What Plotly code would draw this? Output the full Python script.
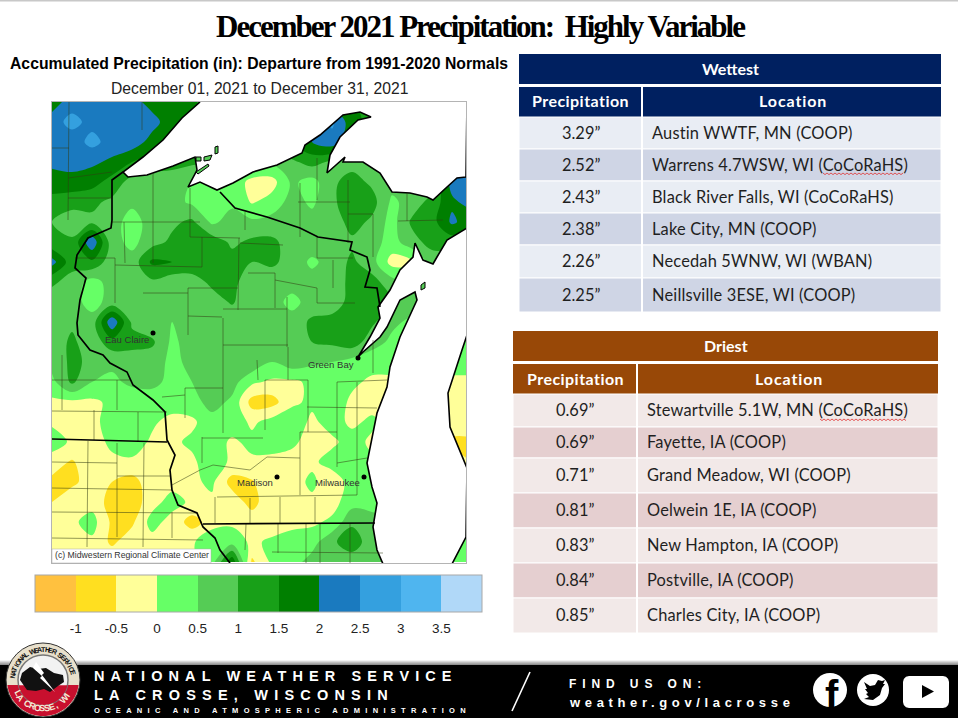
import math
import plotly.graph_objects as go

W, H = 958, 718

# departure from normal (in) on a 20 px grid
grid_x = [52 + 20 * i for i in range(22)]
grid_y = [102 + 20 * i for i in range(24)]
departure = [
    [1.7, 2.3, 2.35, 2.2, 2.2, 1.8, 1.7, 1.6, 1.2, 1.2, 1.2, 1.2, 1.2, 1.3, 1.5, 1.5, 1.2, 1.2, 1.2, 1.2, 1.2, 1.2],
    [2.3, 2.65, 2.35, 2.3, 2.3, 2.2, 1.7, 1.6, 1.3, 1.3, 1.3, 1.3, 1.5, 2.0, 2.6, 1.7, 1.3, 1.3, 1.3, 1.3, 1.3, 1.3],
    [2.3, 2.25, 2.65, 2.3, 2.3, 1.8, 1.6, 1.4, 1.2, 1.2, 1.2, 1.2, 1.6, 2.0, 2.3, 1.5, 1.2, 1.2, 1.2, 1.2, 1.2, 1.2],
    [2.1, 2.2, 2.1, 1.9, 1.5, 1.3, 1.2, 1.1, 1.0, 0.9, 0.8, 0.6, 0.9, 1.2, 0.9, 0.8, 0.7, 0.7, 0.7, 0.7, 0.9, 1.2],
    [1.8, 1.8, 1.7, 1.3, 0.8, 0.7, 0.7, 0.5, 0.5, 0.4, -0.2, -0.2, 0.6, 0.3, 0.9, 1.2, 0.9, 0.7, 0.7, 0.7, 2.2, 2.4],
    [1.3, 1.2, 1.1, 0.9, 0.6, 0.6, 0.7, 0.4, 0.4, 0.4, -0.05, 0.2, 0.7, 0.4, 0.9, 1.3, 1.2, 0.4, 0.7, 1.2, 1.9, 2.2],
    [1.0, 0.7, 0.9, 0.7, 0.3, 0.7, 0.9, 1.1, 0.4, 0.7, 0.6, 0.7, 0.8, 0.7, 0.7, 1.2, 0.9, 0.3, 1.1, 1.3, 2.1, 1.7],
    [1.1, 1.1, 2.4, 0.7, 0.35, 0.8, 1.1, 1.2, 1.3, 0.9, 1.1, 1.1, 0.8, 0.8, 0.7, 0.9, 0.7, 0.3, 0.8, 1.2, 1.2, 1.1],
    [2.2, 1.2, 1.4, 0.7, 0.7, 1.6, 1.5, 1.3, 1.3, 1.2, 1.0, 1.1, 0.8, 0.4, 0.7, 1.1, 0.7, -0.2, -0.1, 0.7, 0.7, 0.7],
    [1.1, 0.8, 0.3, 0.7, 0.7, 0.9, 0.7, 0.8, 1.1, 1.1, 0.8, 0.7, 0.7, 0.7, 0.8, 1.1, 1.2, 0.7, 0.4, 0.4, 0.4, 0.4],
    [0.7, 0.7, 0.3, 0.7, 0.8, 0.7, 0.7, 0.7, 0.8, 1.05, 0.7, 0.7, 0.35, 0.7, 0.7, 1.2, 1.2, 1.0, 0.7, 0.4, 0.4, 0.4],
    [0.8, 0.9, 0.7, 2.4, 0.9, 0.6, 0.5, 0.7, 0.7, 0.7, 0.7, 0.7, 0.7, 1.1, 1.2, 1.3, 1.1, 0.6, 0.4, 0.4, 0.4, 0.4],
    [0.7, 1.1, 0.7, 1.3, 1.2, 1.1, 0.4, 0.7, 0.7, 0.8, 0.9, 0.9, 0.9, 1.0, 1.1, 1.3, 0.7, 0.4, 0.3, 0.3, 0.3, 0.3],
    [0.7, 1.1, 0.9, 0.6, 0.7, 0.7, 0.4, 0.6, 0.7, 1.0, 0.9, 0.5, 0.8, 0.6, 0.5, 0.3, 0.2, 0.2, 0.2, 0.2, 0.2, 0.2],
    [0.35, 1.1, 0.5, 0.4, 0.6, 0.6, 0.4, 0.5, 0.7, 0.7, 0.1, -0.1, -0.1, 0.1, 0.3, 0.1, -0.1, -0.1, -0.1, -0.1, -0.1, -0.1],
    [-0.1, -0.1, -0.1, 0.1, 0.2, 0.3, 0.3, 0.3, 0.7, 0.4, -0.7, -0.7, -0.1, 0.1, 0.3, -0.1, -0.2, -0.2, -0.2, -0.2, -0.2, -0.2],
    [-0.1, -0.2, -0.2, 0.3, 0.3, 0.1, -0.2, -0.1, 0.3, 0.3, -0.1, 0.2, 0.3, -0.1, 0.2, -0.1, 0.1, -0.2, -0.2, -0.2, -0.2, -0.2],
    [0.3, -0.1, -0.2, 0.1, 0.3, -0.1, -0.1, 0.1, 0.3, -0.1, 0.15, 0.3, 0.1, -0.2, -0.1, 0.2, -0.1, -0.2, -0.2, -0.2, -0.6, -0.6],
    [-0.3, -0.55, -0.2, -0.1, -0.1, -0.2, -0.2, -0.1, 0.3, -0.1, -0.1, -0.2, -0.2, -0.1, 0.2, 0.2, 0.1, 0.1, 0.1, 0.1, -0.2, -0.5],
    [-0.6, -0.6, -0.3, -0.5, -0.7, -0.2, -0.2, -0.1, 0.1, -0.7, -0.55, -0.1, -0.2, 0.1, -0.3, 0.2, 0.2, 0.2, 0.2, 0.2, 0.2, 0.2],
    [-0.5, -0.2, -0.2, -0.7, -0.8, -0.2, 0.2, -0.1, -0.1, -0.2, -0.7, -0.1, -0.1, -0.1, -0.2, 0.3, 0.3, 0.3, 0.3, 0.3, 0.3, 0.3],
    [-0.1, -0.1, 0.2, -0.6, -0.6, 0.2, -0.2, -0.7, -0.3, -0.1, -0.2, -0.3, -0.2, -0.1, 0.1, 0.9, 0.7, 0.5, 0.5, 0.5, 0.5, 0.5],
    [-0.1, -0.1, -0.1, -0.6, -0.2, -0.2, -0.1, -0.1, 0.5, 0.3, -0.1, 0.1, 0.3, 0.3, 0.9, 1.3, 0.7, 0.5, 0.5, 0.5, 0.4, 0.4],
    [-0.1, -0.1, -0.1, -0.1, -0.1, -0.1, -0.1, -0.1, 0.3, 1.9, -0.6, 0.1, 0.3, 0.7, 0.8, 0.7, 0.6, 0.5, 0.5, 0.5, 0.3, 0.3],
]
legend_ticks = [-1, -0.5, 0, 0.5, 1, 1.5, 2, 2.5, 3, 3.5]
legend_colors = ["#FFC13F", "#FFDF20", "#FFFF99", "#66FF66", "#55CC55", "#18A018",
                 "#007F00", "#1A7ABF", "#34A0DF", "#4FB5EF", "#B0D8F8"]

superior = [(200, 102), (182, 118), (163, 140), (143, 157), (123, 172), (128, 177), (147, 175), (173, 166),
            (195, 157), (197, 170), (188, 187), (200, 182), (217, 190), (233, 183), (253, 172), (277, 165),
            (302, 153), (305, 145), (320, 135), (343, 115), (360, 112), (371, 117), (358, 120), (340, 137),
            (330, 155), (327, 173), (345, 157), (343, 162), (363, 162), (380, 173), (392, 192), (410, 193),
            (427, 197), (433, 200), (447, 187), (457, 178), (466, 177), (467, 101), (200, 101), (200, 102)]
michigan = [(467, 228), (447, 240), (437, 257), (433, 264), (423, 260), (415, 243), (413, 257), (400, 270),
            (390, 290), (378, 307), (380, 318), (370, 337), (358, 357), (363, 352), (380, 337), (387, 327),
            (400, 300), (415, 292), (417, 300), (400, 337), (390, 367), (387, 387), (377, 413), (372, 440),
            (367, 463), (372, 487), (377, 503), (373, 527), (377, 550), (383, 564), (452, 564), (466, 537),
            (467, 468), (450, 427), (448, 393), (462, 350), (467, 335), (467, 228)]
islands = [[(421, 285), (425, 282), (425, 288), (421, 290), (421, 285)],
           [(215, 147), (218, 146), (218, 153), (215, 154), (215, 147)],
           [(204, 157), (212, 155), (210, 160), (204, 161), (204, 157)],
           [(196, 157), (201, 157), (201, 161), (196, 161), (196, 157)],
           [(196, 172), (208, 164), (209, 166), (198, 174), (196, 172)]]
border_mn_wi = [(123, 172), (112, 180), (112, 220), (111, 228), (88, 238), (77, 255), (75, 268), (86, 278),
                (80, 300), (77, 323), (78, 335), (90, 350), (103, 355), (110, 363), (127, 372), (133, 385),
                (153, 400), (165, 412), (167, 440), (175, 455), (170, 470), (172, 490), (178, 505), (197, 513),
                (203, 527), (215, 538), (220, 550), (230, 563)]
border_ia_mn = [(52, 439), (167, 442)]
border_wi_il = [(203, 524), (375, 523)]
border_wi_mi = [(220, 192), (235, 208), (267, 217), (300, 228), (318, 237), (352, 242), (350, 250), (367, 257),
                (370, 270), (365, 287), (377, 288), (380, 307)]
county_lines = [
    [(69, 102), (68, 220)], [(52, 148), (69, 148)], [(142, 102), (142, 130)], [(68, 198), (112, 198)],
    [(68, 178), (112, 172)], [(112, 222), (200, 222)], [(153, 173), (153, 263)], [(124, 222), (125, 263)],
    [(190, 188), (190, 237)], [(190, 237), (240, 238)], [(202, 237), (202, 267)], [(239, 238), (238, 310)],
    [(245, 212), (245, 230)], [(240, 243), (283, 245)], [(115, 258), (115, 303)], [(75, 258), (115, 258)],
    [(115, 265), (202, 267)], [(143, 293), (188, 293)], [(188, 288), (238, 288)], [(188, 288), (188, 335)],
    [(248, 273), (275, 273)], [(275, 273), (275, 308)], [(188, 316), (222, 317)], [(223, 318), (223, 345)],
    [(223, 309), (287, 309)], [(287, 297), (287, 347)], [(275, 280), (317, 288)], [(317, 288), (317, 303)],
    [(317, 303), (355, 303)], [(300, 183), (300, 237)], [(298, 202), (350, 202)], [(317, 158), (317, 200)],
    [(348, 180), (348, 243)], [(348, 214), (373, 214)], [(373, 214), (373, 257)], [(398, 221), (443, 220)],
    [(407, 193), (407, 221)], [(317, 237), (317, 258)], [(317, 258), (353, 258)], [(333, 260), (333, 288)],
    [(52, 380), (130, 380)], [(62, 355), (62, 410)], [(117, 380), (117, 410)], [(52, 411), (167, 412)],
    [(94, 410), (94, 440)], [(138, 412), (138, 442)], [(88, 441), (87, 547)], [(52, 462), (117, 463)],
    [(117, 443), (117, 537)], [(144, 443), (143, 547)], [(117, 476), (170, 476)], [(52, 488), (172, 490)],
    [(52, 512), (197, 513)], [(172, 512), (172, 538)], [(52, 538), (203, 540)], [(162, 397), (185, 395)],
    [(185, 388), (223, 388)], [(185, 388), (185, 418)], [(223, 345), (223, 433)], [(202, 437), (202, 463)],
    [(172, 485), (200, 470), (213, 465), (250, 470), (267, 457), (300, 458)], [(202, 438), (263, 438)],
    [(300, 432), (300, 495)], [(300, 432), (337, 432)], [(337, 432), (337, 467)], [(217, 497), (357, 495)],
    [(215, 497), (215, 523)], [(250, 498), (250, 523)], [(280, 497), (280, 523)], [(315, 497), (315, 523)],
    [(337, 463), (367, 458)], [(357, 382), (357, 495)], [(337, 382), (387, 380)], [(337, 382), (337, 432)],
    [(307, 407), (377, 408)], [(308, 380), (308, 432)], [(265, 380), (265, 430)], [(265, 380), (308, 380)],
    [(288, 347), (288, 380)], [(223, 345), (288, 345)], [(257, 360), (258, 380)], [(373, 340), (373, 373)],
    [(246, 524), (245, 550)], [(278, 524), (278, 553)], [(306, 524), (306, 563)], [(320, 524), (320, 563)],
    [(350, 524), (350, 563)], [(272, 552), (383, 553)],
]
cities = ["Eau Claire", "Green Bay", "Madison", "Milwaukee"]
city_x = [153, 358, 277, 364]
city_y = [333, 358, 477, 477]
city_label_x = [127, 331, 255, 337]
city_label_y = [339, 364, 483, 483]

wettest_amount = ["3.29”", "2.52”", "2.43”", "2.38”", "2.26”", "2.25”"]
wettest_place = ["Austin WWTF, MN (COOP)", "Warrens 4.7WSW, WI (CoCoRaHS)", "Black River Falls, WI (CoCoRaHS)",
                 "Lake City, MN (COOP)", "Necedah 5WNW, WI (WBAN)", "Neillsville 3ESE, WI (COOP)"]
driest_amount = ["0.69”", "0.69”", "0.71”", "0.81”", "0.83”", "0.84”", "0.85”"]
driest_place = ["Stewartville 5.1W, MN (CoCoRaHS)", "Fayette, IA (COOP)", "Grand Meadow, WI (COOP)",
                "Oelwein 1E, IA (COOP)", "New Hampton, IA (COOP)", "Postville, IA (COOP)", "Charles City, IA (COOP)"]


def px(x):
    return x / W


def py(y):
    return 1 - y / H


def xs(lines):
    out = []
    for line in lines:
        out += [p[0] for p in line] + [None]
    return out


def ys(lines):
    out = []
    for line in lines:
        out += [p[1] for p in line] + [None]
    return out


def poly(points):
    return "M" + " L".join(f"{px(a):.5f},{py(b):.5f}" for a, b in points) + " Z"


shapes = []
notes = []


def add_shape(kind, x0, y0, x1, y1, fill, line=None, lw=0):
    shapes.append(dict(type=kind, xref="paper", yref="paper", x0=px(x0), x1=px(x1), y0=py(y0), y1=py(y1),
                       fillcolor=fill, line=dict(color=line or fill, width=lw), layer="above"))


def add_path(points, fill, line=None, lw=0):
    shapes.append(dict(type="path", xref="paper", yref="paper", path=poly(points), fillcolor=fill,
                       line=dict(color=line or fill, width=lw), layer="above"))


def add_text(x, y, text, size, color="black", family="Liberation Sans", anchor="center", bold=False, angle=0):
    notes.append(dict(xref="paper", yref="paper", x=px(x), y=py(y), text=f"<b>{text}</b>" if bold else text,
                      showarrow=False, xanchor=anchor, yanchor="middle", textangle=angle,
                      font=dict(family=family, size=size, color=color)))


def spaced(text, gap):
    return f'<span style="letter-spacing:{gap}px">{text}</span>'


fig = go.Figure()

fig.add_trace(go.Contour(
    x=grid_x, y=grid_y, z=departure, xaxis="x", yaxis="y", zauto=False, zmin=-1.5, zmax=4,
    autocontour=False, contours=dict(start=-1, end=3.5, size=0.5, coloring="fill", showlines=False),
    line=dict(width=0, smoothing=1),
    colorscale=[[k / 11 if j == 0 else (k + 1) / 11, c] for k, c in enumerate(legend_colors) for j in (0, 1)],
    hoverinfo="skip",
    colorbar=dict(orientation="h", x=px(258.5), xanchor="center", y=py(575), yanchor="top", len=447, lenmode="pixels",
                  thickness=37, thicknessmode="pixels", xpad=0, ypad=0, outlinecolor="#A8A8A8", outlinewidth=1,
                  tickmode="array", tickvals=legend_ticks, ticktext=[str(t) for t in legend_ticks],
                  ticks="outside", ticklen=5, tickwidth=1, tickcolor="rgba(0,0,0,0)",
                  tickfont=dict(family="Liberation Sans", size=13.5, color="#222222")),
))
fig.add_trace(go.Scatter(x=[p[0] for p in superior], y=[p[1] for p in superior], mode="lines", fill="toself",
                         fillcolor="white", line=dict(color="black", width=1.6), hoverinfo="skip", showlegend=False))
fig.add_trace(go.Scatter(x=[p[0] for p in michigan], y=[p[1] for p in michigan], mode="lines", fill="toself",
                         fillcolor="white", line=dict(color="black", width=1.6), hoverinfo="skip", showlegend=False))
fig.add_trace(go.Scatter(x=xs(islands), y=ys(islands), mode="lines", fill="toself", fillcolor="#55CC55",
                         line=dict(color="black", width=1), hoverinfo="skip", showlegend=False))
fig.add_trace(go.Scatter(x=xs(county_lines), y=ys(county_lines), mode="lines",
                         line=dict(color="rgba(50,60,20,0.75)", width=0.7), hoverinfo="skip", showlegend=False))
fig.add_trace(go.Scatter(x=xs([border_mn_wi, border_ia_mn, border_wi_il, border_wi_mi]),
                         y=ys([border_mn_wi, border_ia_mn, border_wi_il, border_wi_mi]), mode="lines",
                         line=dict(color="black", width=1.7), hoverinfo="skip", showlegend=False))
fig.add_trace(go.Scatter(x=city_x, y=city_y, mode="markers", marker=dict(color="black", size=5), hoverinfo="skip",
                         showlegend=False))

# the two station tables: band, header row, then striped rows of the picture's own heights
for name, amounts, places, head, odd, even, x0, x1, split, band_y, row_lines in [
    ("Wettest", wettest_amount, wettest_place, "#002060", "#E9EDF4", "#CFD5E5", 519, 941, 642, 54,
     [117, 149, 181, 213, 245, 278, 312]),
    ("Driest", driest_amount, driest_place, "#984807", "#F2E9E8", "#E5CFD0", 513, 938, 637, 331,
     [394, 427, 458, 493, 528, 563, 598, 633]),
]:
    head_y = band_y + 33
    add_shape("rect", x0, band_y, x1, band_y + 30, head)
    add_text((x0 + x1) / 2, band_y + 14.5, name, 16, "white", "Lato", bold=True)
    add_shape("rect", x0, head_y, x1, head_y + 30, head)
    add_text((x0 + split) / 2, head_y + 14, spaced("Precipitation", 0.45), 16, "white", "Lato", bold=True)
    add_text((split + x1) / 2 + 1, head_y + 14, spaced("Location", 0.9), 16, "white", "Lato", bold=True)
    for i, (amount, place) in enumerate(zip(amounts, places)):
        top, bottom = row_lines[i], row_lines[i + 1]
        mid = (top + bottom) / 2 - 0.7
        add_shape("rect", x0, top, x1, bottom, odd if i % 2 == 0 else even, "white", 1)
        add_text((x0 + split) / 2, mid, amount, 16.4, "#1f1f1f", "Lato")
        add_text(split + 8, mid, spaced(place, 0.18), 16.4, "#1f1f1f", "Lato", anchor="left")
    add_shape("rect", split - 1, head_y, split + 1, row_lines[-1], "white")

# spell check squiggles
for x_start, x_end, y_sq in [(823, 906, 173), (820, 909, 419)]:
    pts = [(x_start + i * 2, y_sq + (i % 2) * 1.6) for i in range(int((x_end - x_start) / 2))]
    shapes.append(dict(type="path", xref="paper", yref="paper", layer="above", line=dict(color="#E03030", width=0.8),
                       path="M" + " L".join(f"{px(a):.5f},{py(b):.5f}" for a, b in pts)))

# separators of the legend boxes
for t in legend_ticks:
    tick_x = 35 + (t + 1.5) / 5.5 * 447
    shapes.append(dict(type="line", xref="paper", yref="paper", x0=px(tick_x), x1=px(tick_x), y0=py(575), y1=py(612),
                       line=dict(color="#444444", width=1), layer="above"))

# titles
add_shape("rect", 0, 0, 958, 1.5, "#C8C8C8")
add_text(480, 26, spaced("December 2021 Precipitation:&nbsp; Highly Variable", -2), 31, "black", "Liberation Serif", bold=True)
add_text(259, 63, "Accumulated Precipitation (in): Departure from 1991-2020 Normals", 15.75, "black", bold=True)
add_text(259, 88, "December 01, 2021 to December 31, 2021", 15.7, "#222222")

# map labels
for name, lx, ly in zip(cities, city_label_x, city_label_y):
    add_text(lx, ly, name, 9.5, "#333333")
add_shape("rect", 52, 549, 211, 563, "white", "#AAAAAA", 0.5)
add_text(132, 555, "(c) Midwestern Regional Climate Center", 8.7, "#333333")

# footer band
for i, grey in enumerate(["#F2F2F2", "#D8D8D8", "#BEBEBE", "#A8A8A8", "#909090"]):
    add_shape("rect", 0, 660 + i, 958, 661 + i, grey)
add_shape("rect", 0, 665, 958, 718, "black")
add_text(91.5, 676, spaced("NATIONAL WEATHER SERVICE", 6.1), 14.5, "white", anchor="left", bold=True)
add_text(91.5, 695, spaced("LA CROSSE, WISCONSIN", 6.2), 14.5, "white", anchor="left", bold=True)
add_text(92, 710, spaced("OCEANIC AND ATMOSPHERIC ADMINISTRATION", 5.3), 7.5, "white", anchor="left", bold=True)
shapes.append(dict(type="line", xref="paper", yref="paper", x0=px(530), y0=py(672), x1=px(512), y1=py(711),
                   line=dict(color="white", width=1.6), layer="above"))
add_text(566.5, 684, spaced("FIND US ON:", 5.9), 12, "white", anchor="left", bold=True)
add_text(566.5, 702, spaced("weather.gov/lacrosse", 4.65), 13, "white", anchor="left", bold=True)

# social icons
add_shape("circle", 813, 673, 847, 707, "white")
add_text(832, 695, "f", 40, "black", bold=True)
add_shape("circle", 857, 674, 889, 706, "white")
bird = [(864, 682), (870, 686), (875, 685), (878, 680), (882, 681), (885, 680), (883, 684), (885, 684), (882, 688),
        (880, 695), (873, 700), (864, 699), (869, 697), (866, 694), (868, 693), (865, 689), (867, 689)]
add_path(bird, "black")
corner = []
for ax, ay, a0 in [(943, 682, -90), (943, 702, 0), (909, 702, 90), (909, 682, 180)]:
    corner += [(ax + 6 * math.cos(math.radians(a0 + d)), ay + 6 * math.sin(math.radians(a0 + d))) for d in (0, 30, 60, 90)]
add_path(corner, "white")
add_path([(922, 685), (934, 691.5), (922, 698)], "black")

# office seal
cx, cy, r = 43, 680, 37


def arc_points(a0, a1, rad, n=36):
    return [(cx + rad * math.cos(math.radians(a0 + (a1 - a0) * i / n)),
             cy + rad * math.sin(math.radians(a0 + (a1 - a0) * i / n))) for i in range(n + 1)]


add_shape("circle", cx - r, cy - r, cx + r, cy + r, "#E8E0CC", "#333333", 1)
add_path(arc_points(8, 172, r - 1), "#C8102E")
add_shape("circle", cx - 25, cy - 25, cx + 25, cy + 25, "#F2F2F2", "#777777", 1.5)
add_path([(cx + 25 * math.cos(math.radians(a)), cy + 25 * math.sin(math.radians(a))) for a in range(12, 169, 6)], "#C8102E")
cloud = [(20, 680), (22, 673), (30, 667), (38, 669), (46, 668), (54, 673), (63, 675), (64, 682), (58, 686),
         (50, 692), (44, 689), (36, 691), (27, 690)]
add_path(cloud, "#111111")
add_path([(36, 662), (44, 673), (42, 675), (55, 692), (40, 678), (42, 676), (33, 668)], "white")
for name, start, step, rad, size, color in [("NATIONAL WEATHER SERVICE", -172, 6.9, 30.5, 7, "#111111")]:
    for i, ch in enumerate(name):
        a = start + i * step
        add_text(cx + rad * math.cos(math.radians(a)), cy + rad * math.sin(math.radians(a)), ch, size, color, bold=True,
                 angle=a + 90)
for i, ch in enumerate("LA CROSSE, WI"):
    a = 152 - i * 10
    add_text(cx + 28.5 * math.cos(math.radians(a)), cy + 28.5 * math.sin(math.radians(a)), ch, 9, "#F4ECD8", bold=True,
             angle=a - 90)

fig.update_layout(
    width=W, height=H, margin=dict(l=0, r=0, t=0, b=0), paper_bgcolor="white", plot_bgcolor="white",
    showlegend=False, shapes=shapes, annotations=notes,
    xaxis=dict(domain=[px(52), px(466)], range=[52, 466], showgrid=False, zeroline=False, showticklabels=False,
               ticks="", showline=True, mirror=True, linecolor="#B4B4B4", linewidth=1),
    yaxis=dict(domain=[py(563), py(102)], range=[563, 102], showgrid=False, zeroline=False, showticklabels=False,
               ticks="", showline=True, mirror=True, linecolor="#B4B4B4", linewidth=1),
)

fig.write_html("out.html", config={"displayModeBar": False}, post_script="document.body.style.margin='0';")
